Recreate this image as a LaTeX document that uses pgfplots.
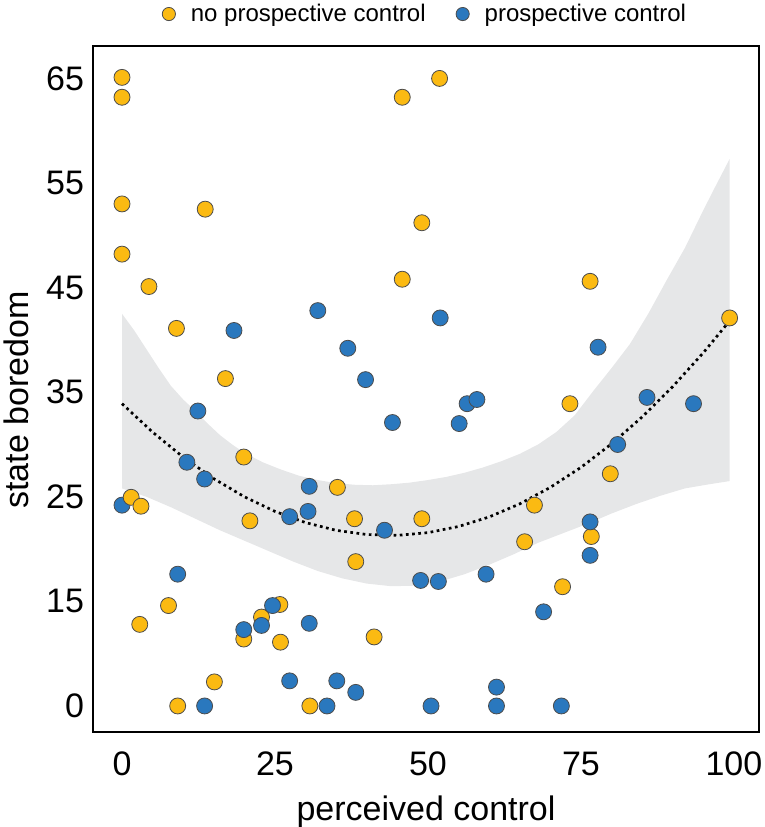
\documentclass[border=0pt]{standalone}
\usepackage{fontspec}
\setmainfont{Liberation Sans}
\usepackage{pgfplots}
\pgfplotsset{compat=1.18}
\definecolor{corange}{RGB}{251,186,18}
\definecolor{cblue}{RGB}{42,120,190}
\definecolor{cband}{RGB}{230,231,232}
\begin{document}
\begin{tikzpicture}
\begin{axis}[
  at={(0,0)}, anchor=south west,
  scale only axis, width=333pt, height=343pt,
  xmin=-4.74, xmax=104.1, ymin=2.51, ymax=68.1,
  axis line style={line width=1.4pt},
  xtick={0,25,50,75,100},
  ytick={5,15,25,35,45,55,65},
  yticklabels={0,15,25,35,45,55,65},
  major tick length=0pt,
  tick label style={font=\fontsize{17}{20}\selectfont},
  /pgf/number format/assume math mode=true,
  xticklabel style={yshift=-6.5pt},
  yticklabel style={xshift=-1pt},
  xlabel={perceived control}, ylabel={state boredom},
  label style={font=\fontsize{17}{20}\selectfont},
  xlabel style={at={(axis description cs:0.5,-0.1165)}, anchor=center},
  ylabel style={at={(axis description cs:-0.1156,0.484)}, anchor=center},
  legend style={at={(axis description cs:0.5,1.0466)}, anchor=center, draw=none, fill=none,
    font=\fontsize{12}{14}\selectfont, legend columns=2,
    /tikz/every even column/.append style={column sep=13pt}},
  legend cell align=left,
  legend image code/.code={\draw[#1, mark size=3.3pt] plot coordinates {(0pt,0pt)}; \path[draw=none, fill=none] (-3.5pt,-0.1pt) rectangle (9pt,0.1pt);},
  clip=false,
]
% confidence band
\addplot[fill=cband, draw=none, forget plot] coordinates {
(0,42.5)(2,40.9)(4,39.1)(6,37.3)(8,35.6)(10,34.3)(12,33.2)(14,32.0)(16,30.9)(18,30.0)(20,29.2)(23,28.3)(26,27.6)(29,27.0)(32,26.6)(35,26.3)(38,26.15)(41,26.1)(44,26.2)(47,26.35)(50,26.6)(53,26.9)(56,27.3)(59,27.8)(62,28.4)(65,29.1)(68,30.0)(71,31.2)(74,32.8)(77,35.1)(80,37.3)(83,39.6)(86,42.5)(89,45.7)(92,48.8)(95,52.4)(97,54.7)(99.3,57.3)
(99.3,26.5)(96,26.2)(92,25.8)(88,25.1)(84,24.3)(80,23.4)(76,22.4)(72,21.5)(68,20.6)(64,19.5)(60,18.5)(56,17.6)(52,16.9)(48,16.5)(44,16.45)(40,16.7)(36,17.2)(32,17.9)(28,18.8)(24,19.8)(20,20.8)(16,21.8)(12,22.9)(8,24.0)(4,25.0)(0,25.8)
} -- cycle;
% no prospective control
\addplot[only marks, mark=*, mark size=4pt, mark options={fill=corange, draw=black!70, line width=0.4pt}] coordinates {
(0,65.1)(0,63.2)(45.8,63.2)(51.9,65.0)(0,53.0)(13.6,52.5)(49.0,51.2)(0,48.2)(4.4,45.1)(45.8,45.8)(76.5,45.6)(8.9,41.1)(99.3,42.1)(16.9,36.3)(73.2,33.9)(19.9,28.8)(35.2,25.9)(20.9,22.7)(38.0,22.9)(49.0,22.9)(38.2,18.8)(79.8,27.2)(67.4,24.2)(76.7,21.2)(65.8,20.7)(72.0,16.4)(7.6,14.6)(2.9,12.8)(25.8,14.7)(22.8,13.5)(19.9,11.4)(25.9,11.1)(41.2,11.6)(15.1,7.3)(9.1,5)(30.7,5)
};
\addlegendentry{no prospective control}
% prospective control
\addplot[only marks, mark=*, mark size=4pt, mark options={fill=cblue, draw=black!70, line width=0.4pt}] coordinates {
(18.3,40.9)(32.0,42.8)(36.9,39.2)(39.8,36.2)(52.0,42.1)(77.8,39.3)(56.4,33.9)(58.0,34.3)(85.8,34.5)(93.4,33.9)(12.4,33.2)(44.2,32.1)(55.1,32.0)(10.6,28.3)(13.5,26.7)(30.6,26.0)(0,24.2)(27.4,23.1)(30.4,23.6)(42.9,21.8)(81.0,30.0)(76.5,22.6)(76.5,19.4)(48.8,17.0)(51.7,16.9)(59.5,17.6)(68.9,14.0)(9.1,17.6)(24.6,14.6)(22.8,12.7)(19.9,12.3)(30.6,12.9)(27.4,7.4)(35.1,7.4)(38.2,6.3)(61.2,6.8)(13.5,5)(33.5,5)(50.5,5)(61.2,5)(71.8,5)
};
\addlegendentry{prospective control}
% orange points drawn over blue near x=0
\addplot[only marks, mark=*, mark size=4pt, mark options={fill=corange, draw=black!70, line width=0.4pt}, forget plot] coordinates {
(1.5,24.95)(3.1,24.1)
};
% quadratic fit
\addplot[black, line width=1.35pt, dash pattern=on 1.35pt off 1.75pt, forget plot] coordinates {
(0,33.90)(5,31.18)(10,28.79)(15,26.73)(20,25.00)(25,23.60)(30,22.53)(35,21.79)(40,21.39)(45,21.31)(50,21.57)(55,22.16)(60,23.07)(65,24.32)(70,25.90)(75,27.81)(80,30.06)(85,32.63)(90,35.53)(95,38.77)(99,41.60)
};
\end{axis}
\pgfresetboundingbox
\path (-46.5pt,-47.5pt) rectangle (336pt,366pt);
\end{tikzpicture}
\end{document}
